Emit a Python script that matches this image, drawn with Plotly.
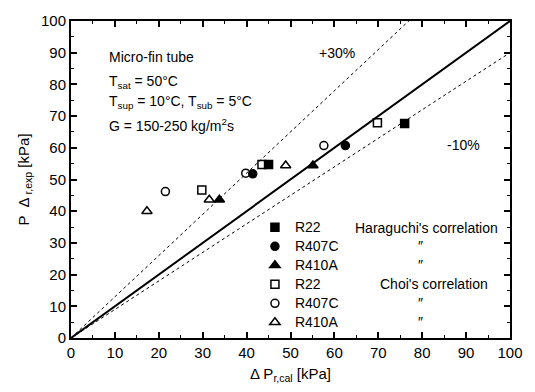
import plotly.graph_objects as go

# ---- data ----
har_r22_x = [45.0, 76.0]
har_r22_y = [54.7, 67.7]
har_r407c_x = [41.4, 62.5]
har_r407c_y = [51.8, 60.7]
har_r410a_x = [33.8, 55.1]
har_r410a_y = [43.6, 54.4]
choi_r22_x = [29.8, 43.5, 69.8]
choi_r22_y = [46.7, 54.7, 67.9]
choi_r407c_x = [21.5, 39.8, 57.6]
choi_r407c_y = [46.2, 52.0, 60.7]
choi_r410a_x = [17.3, 31.5, 48.9]
choi_r410a_y = [40.0, 43.6, 54.4]

ref_x = [0, 100]
ratio_main = 1.0
ratio_upper = 1.3
ratio_lower = 0.9

tick_vals = [0, 10, 20, 30, 40, 50, 60, 70, 80, 90, 100]

FONT = "Liberation Sans, Arial, sans-serif"

fig = go.Figure()

# reference lines
fig.add_trace(go.Scatter(x=ref_x, y=[v * ratio_main for v in ref_x], mode="lines",
                         line=dict(color="black", width=2), showlegend=False, hoverinfo="skip"))
fig.add_trace(go.Scatter(x=ref_x, y=[v * ratio_upper for v in ref_x], mode="lines",
                         line=dict(color="black", width=1, dash="dot"), showlegend=False, hoverinfo="skip"))
fig.add_trace(go.Scatter(x=ref_x, y=[v * ratio_lower for v in ref_x], mode="lines",
                         line=dict(color="black", width=1, dash="dot"), showlegend=False, hoverinfo="skip"))

series = [
    ("R22", har_r22_x, har_r22_y, "square", 8),
    ("R407C", har_r407c_x, har_r407c_y, "circle", 8),
    ("R410A", har_r410a_x, har_r410a_y, "triangle-up", 9),
    ("R22", choi_r22_x, choi_r22_y, "square-open", 8),
    ("R407C", choi_r407c_x, choi_r407c_y, "circle-open", 8),
    ("R410A", choi_r410a_x, choi_r410a_y, "triangle-up-open", 9),
]
for name, xs, ys, sym, sz in series:
    fig.add_trace(go.Scatter(x=xs, y=ys, mode="markers",
                             name='<span style="font-size:14px">' + name + '</span>',
                             marker=dict(symbol=sym, size=sz, color="black",
                                         line=dict(color="black", width=1.5))))

annos = [
    dict(x=8.1, y=88.6, text="Micro-fin tube", xanchor="left"),
    dict(x=8.1, y=80.9, text="T<sub>sat</sub> = 50°C", xanchor="left"),
    dict(x=8.1, y=74.5, text="T<sub>sup</sub> = 10°C, T<sub>sub</sub> = 5°C", xanchor="left"),
    dict(x=8.1, y=67.1, text="G = 150-250 kg/m<sup>2</sup>s", xanchor="left"),
    dict(x=60.6, y=89.8, text="+30%", xanchor="center"),
    dict(x=89.4, y=60.9, text="-10%", xanchor="center"),
    dict(x=81.0, y=34.6, text="Haraguchi's correlation", xanchor="center"),
    dict(x=79.5, y=29.0, text="″", xanchor="center"),
    dict(x=79.5, y=22.9, text="″", xanchor="center"),
    dict(x=82.6, y=16.9, text="Choi's correlation", xanchor="center"),
    dict(x=79.5, y=11.1, text="″", xanchor="center"),
    dict(x=79.5, y=5.1, text="″", xanchor="center"),
]
for a in annos:
    fig.add_annotation(x=a["x"], y=a["y"], text=a["text"], xanchor=a["xanchor"], yanchor="middle",
                       showarrow=False, font=dict(family=FONT, size=14, color="black"))

axis_common = dict(
    range=[0, 100], tickvals=tick_vals, ticks="inside", ticklen=6, tickwidth=1.5,
    tickcolor="black", showline=True, linecolor="black", linewidth=2, mirror="ticks",
    showgrid=False, zeroline=False,
    minor=dict(dtick=5, ticks="inside", ticklen=3, tickwidth=1, tickcolor="black", showgrid=False),
    tickfont=dict(family=FONT, size=15, color="black"),
)

fig.update_xaxes(**axis_common,
                 title=dict(text="Δ P<sub>r,cal</sub> [kPa]", font=dict(family=FONT, size=15, color="black"),
                            standoff=8))
fig.update_yaxes(**axis_common,
                 title=dict(text="P  Δ<sub> r,exp</sub> [kPa]", font=dict(family=FONT, size=15, color="black"),
                            standoff=8))

fig.update_layout(
    width=535, height=392,
    margin=dict(l=71, r=22, t=15, b=54),
    paper_bgcolor="white", plot_bgcolor="white",
    legend=dict(x=0.419, y=0.395, xanchor="left", yanchor="top", bgcolor="rgba(0,0,0,0)",
                font=dict(family=FONT, size=12, color="black"), tracegroupgap=0),
    font=dict(family=FONT, color="black"),
)

fig.write_html("out.html")
